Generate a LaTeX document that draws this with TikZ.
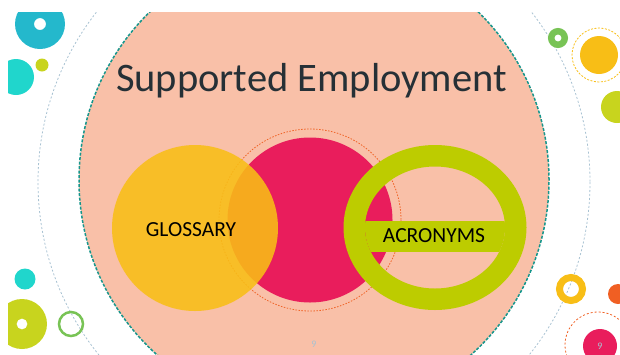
\documentclass[tikz,border=0pt]{standalone}
\usepackage{fontspec}
\setmainfont{Carlito}
\usepackage{tikz}
\usetikzlibrary{positioning}

\definecolor{salmon}{RGB}{249,192,168}
\definecolor{tealedge}{RGB}{22,150,140}
\definecolor{ringgray}{RGB}{168,194,210}
\definecolor{sunyellow}{RGB}{248,190,22}
\definecolor{hotpink}{RGB}{233,29,92}
\definecolor{limegreen}{RGB}{189,204,0}
\definecolor{dashorange}{RGB}{240,100,40}
\definecolor{titlegray}{RGB}{38,48,54}
\definecolor{skyteal}{RGB}{36,184,204}
\definecolor{aqua}{RGB}{32,214,204}
\definecolor{lime}{RGB}{200,212,30}
\definecolor{leaf}{RGB}{120,195,85}
\definecolor{orangedot}{RGB}{240,95,35}

\begin{document}
\begin{tikzpicture}[x=1pt,y=-1pt]
        \useasboundingbox (0,0) rectangle (620,354);
        \clip (8,12) rectangle (620,354);
        \draw [ringgray,line width=0.8pt,dash pattern=on 2pt off 2pt] (314,182) circle (276);
        % small dots round the slide
        \fill [skyteal,even odd rule] (40,24) circle (25) (40,24) circle (6);
        \fill [aqua] (16,77) circle (18);
        \fill [lime] (42,65) circle (6.5);
        \fill [aqua] (25,279) circle (10.5);
        \fill [lime,even odd rule] (22,324) circle (25) (22,324) circle (5.5);
        \draw [leaf,line width=2.5pt] (71,324) circle (12);
        \draw [leaf,line width=6.5pt] (558,38) circle (6.75);
        \fill [sunyellow] (599,55) circle (19);
        \draw [sunyellow,line width=0.8pt,dash pattern=on 2pt off 1.5pt] (599,55) circle (27);
        \fill [lime] (617,107) circle (16);
        \draw [sunyellow,line width=7pt] (571,289) circle (11.5);
        \fill [orangedot] (618,294) circle (10);
        \draw [dashorange,line width=0.8pt,dash pattern=on 2pt off 2pt] (598,345) circle (33);
        \node [minimum size=34pt,circle,fill=hotpink,text=ringgray,font=\fontsize{10}{12}\selectfont] (pagedot) at (600,346) {9};
        % the slide itself
        \node [minimum size=470pt,circle,fill=salmon,draw=tealedge,line width=1.5pt,dash pattern=on 3pt off 1.5pt] (slide) at (314,180) {};
        \node [anchor=base,text=titlegray,font=\fontsize{40.5}{46}\selectfont] (title) at (311.5,91.7) {Supported Employment};
        \node [minimum size=165pt,circle,fill=hotpink] (pink) at (310,220) {};
        \draw [dashorange,line width=0.8pt,dash pattern=on 1.5pt off 1.5pt] (pink.center) circle (91);
        \node [minimum size=166pt,circle,fill=sunyellow,fill opacity=0.88] (glossary) at (195,228) {};
        \node [anchor=base,text=black,font=\fontsize{21.5}{24}\selectfont] (glossarytext) at (191,236.7) {GLOSSARY};
        \fill [limegreen,even odd rule] (435,227.5) ellipse [x radius=91.5,y radius=82.5] (435,227.5) ellipse [x radius=70,y radius=61];
        \begin{scope}
            \clip (435,227.5) ellipse [x radius=70,y radius=61];
            \fill [limegreen] (360,221) rectangle (510,252);
        \end{scope}
        \node [anchor=base,text=black,font=\fontsize{21.5}{24}\selectfont] (acronymstext) at (434,242.7) {ACRONYMS};
        \node [text=ringgray,font=\fontsize{10}{12}\selectfont] (pagenum) at (314,344) {9};
    \end{tikzpicture}
\end{document}
